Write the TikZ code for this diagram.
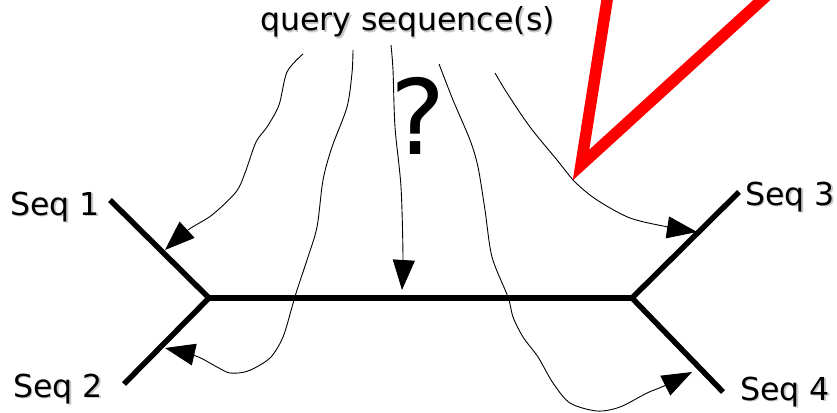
\documentclass[tikz,border=0pt]{standalone}
\usepackage{fontspec}
\setmainfont{DejaVu Sans}
\usetikzlibrary{arrows.meta}
\newcommand\shadowed[1]{\makebox[0pt][l]{\kern1.5pt\raisebox{-1.5pt}{\textcolor{black!22}{#1}}}#1}
\begin{document}
\begin{tikzpicture}[x=1pt,y=-1pt,
  branch/.style={line width=5.5pt,line join=miter},
  query/.style={line width=0.9pt,-{Triangle[length=30pt,width=22pt]}},
  lbl/.style={inner sep=0pt,font=\fontsize{31.6}{38}\selectfont},
  marker/.style={draw=red,line width=11.5pt,line join=miter}]
\useasboundingbox (0,0) rectangle (837,412);
\clip (0,0) rectangle (837,412);
% labels
\node[lbl,anchor=base] (query) at (407.5,31) {\shadowed{query sequence(s)}};
\node[lbl,anchor=base west] (l1) at (10,215) {\shadowed{Seq 1}};
\node[lbl,anchor=base west] (l2) at (13,397) {\shadowed{Seq 2}};
\node[lbl,anchor=base west] (l3) at (745,205) {\shadowed{Seq 3}};
\node[lbl,anchor=base west] (l4) at (740,400) {\shadowed{Seq 4}};
\node[inner sep=0pt,anchor=base,font=\fontsize{104}{120}\selectfont] (qm) at (418,154) {?};
% tree
\coordinate (s1) at (110,200);
\coordinate (jl) at (209,298);
\coordinate (s2) at (124,384);
\coordinate (jr) at (632,298);
\coordinate (s3) at (739,192);
\coordinate (s4) at (723,392);
\draw[branch] (s1) -- (jl) -- (s2);
\draw[branch] (jl) -- (jr);
\draw[branch] (s3) -- (jr) -- (s4);
% query arrows
\coordinate (a1) at (303,54);
\coordinate (a2) at (353,50);
\coordinate (a3) at (391,45);
\coordinate (a4) at (439,64);
\coordinate (a5) at (495,73);
\coordinate (t1) at (165,250);
\coordinate (t2) at (165,348);
\coordinate (t3) at (402,290);
\coordinate (t4) at (692,372);
\coordinate (t5) at (697,232);
\draw[query] plot[smooth] coordinates {(a1) (287,72) (279,105) (267,127) (256,142) (245,173) (236,192) (212,215) (188,230) (t1)};
\draw[query] plot[smooth] coordinates {(a2) (352,73) (347,107) (332,147) (323,180) (317,227) (307,260) (297,290) (292,307) (283,337) (270,358) (248,371) (230,373) (217,367) (196,356) (t2)};
\draw[query] plot[smooth] coordinates {(a3) (393,70) (395,127) (401,187) (403,257) (t3)};
\draw[query] plot[smooth] coordinates {(a4) (453,100) (470,140) (478,167) (485,210) (492,257) (508,297) (513,317) (523,337) (538,357) (553,383) (570,403) (597,411) (620,407) (647,393) (664,386) (t4)};
\draw[query] plot[smooth] coordinates {(a5) (507,93) (530,127) (557,160) (575,182) (597,200) (630,218) (668,227) (t5)};
% red marker
\coordinate (vl) at (609,-12);
\coordinate (vt) at (581,165);
\coordinate (vr) at (775,-12);
\draw[marker] (vl) -- (vt) -- (vr);
\end{tikzpicture}
\end{document}
